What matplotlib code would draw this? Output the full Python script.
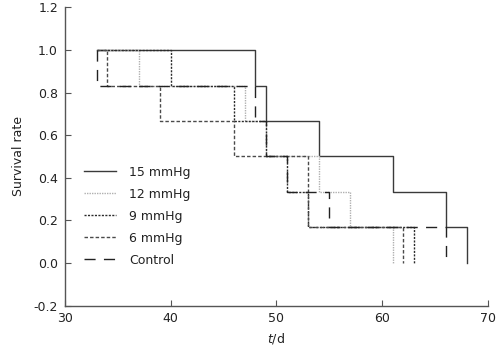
import matplotlib
matplotlib.use("Agg")
import matplotlib.pyplot as plt

# Kaplan-Meier style survival steps
days_15 = [33, 48, 49, 54, 61, 66, 68]
surv_15 = [1.0, 0.833, 0.667, 0.5, 0.333, 0.167, 0.0]

days_12 = [33, 37, 47, 49, 54, 57, 61]
surv_12 = [1.0, 0.833, 0.667, 0.5, 0.333, 0.167, 0.0]

days_9 = [33, 40, 46, 49, 51, 53, 63]
surv_9 = [1.0, 0.833, 0.667, 0.5, 0.333, 0.167, 0.0]

days_6 = [33, 34, 39, 46, 53, 53, 62]
surv_6 = [1.0, 0.833, 0.667, 0.5, 0.333, 0.167, 0.0]

days_ctrl = [33, 33, 48, 49, 51, 55, 66]
surv_ctrl = [1.0, 0.833, 0.667, 0.5, 0.333, 0.167, 0.0]

x_ticks = [30, 40, 50, 60, 70]
y_ticks = [-0.2, 0.0, 0.2, 0.4, 0.6, 0.8, 1.0, 1.2]

plt.rcParams["font.family"] = "DejaVu Sans"
plt.rcParams["font.size"] = 9

fig = plt.figure(figsize=(4.99, 3.54), dpi=100)
ax = fig.add_axes([0.130, 0.137, 0.848, 0.842])

ax.step(days_15, surv_15, where="post", color="#3a3a3a", lw=1.0, label="15 mmHg")
ax.step(days_12, surv_12, where="post", color="#b0b0b0", lw=1.0,
        dashes=(1, 0.8), label="12 mmHg")
ax.step(days_9, surv_9, where="post", color="#2a2a2a", lw=1.0,
        dashes=(1.5, 1), label="9 mmHg")
ax.step(days_6, surv_6, where="post", color="#4a4a4a", lw=1.0,
        dashes=(2.5, 1.5), label="6 mmHg")
ax.step(days_ctrl, surv_ctrl, where="post", color="#222222", lw=1.0,
        dashes=(8, 6), label="Control")

ax.set_xlim(30, 70)
ax.set_ylim(-0.2, 1.2)
ax.set_xticks(x_ticks)
ax.set_yticks(y_ticks)
ax.set_yticklabels([f"{v:.1f}" for v in y_ticks])

for s in ["top", "right"]:
    ax.spines[s].set_visible(False)
for s in ["left", "bottom"]:
    ax.spines[s].set_color("#555555")
    ax.spines[s].set_linewidth(1.0)
ax.tick_params(direction="in", length=4, color="#555555", labelcolor="#222222", pad=5)

ax.set_xlabel("$t$/d", color="#222222", labelpad=4)
ax.set_ylabel("Survival rate", color="#222222", labelpad=6)

ax.legend(loc="upper left", bbox_to_anchor=(0.03, 0.49), frameon=False,
          handlelength=2.6, handletextpad=1.0, labelspacing=0.72,
          borderpad=0, fontsize=9, labelcolor="#222222")

fig.savefig("out.png", dpi=100)
